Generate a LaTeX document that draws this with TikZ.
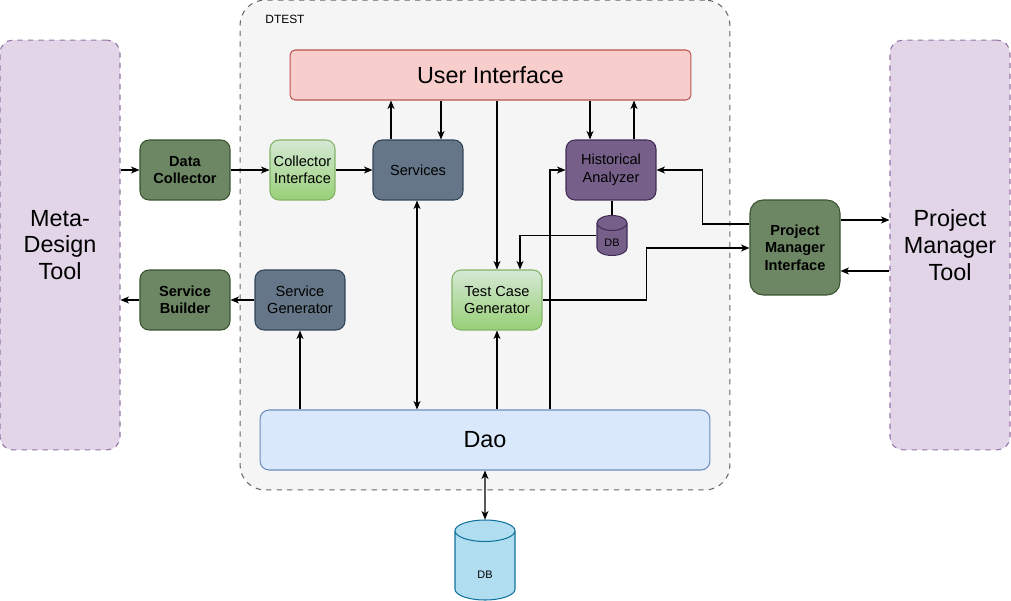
\documentclass[tikz,border=0pt]{standalone}
\usepackage{fontspec}
\setmainfont{Liberation Sans}
\usetikzlibrary{shapes.geometric,arrows.meta}
\definecolor{toolfill}{HTML}{E1D5E7}
\definecolor{toolline}{HTML}{9673A6}
\definecolor{boxfill}{HTML}{F5F5F5}
\definecolor{boxline}{HTML}{666666}
\definecolor{uifill}{HTML}{F8CECC}
\definecolor{uiline}{HTML}{B85450}
\definecolor{dgfill}{HTML}{6D8764}
\definecolor{dgline}{HTML}{3A5431}
\definecolor{lgtop}{HTML}{D5E8D4}
\definecolor{lgbot}{HTML}{97D077}
\definecolor{lgline}{HTML}{82B366}
\definecolor{slfill}{HTML}{647687}
\definecolor{slline}{HTML}{314354}
\definecolor{pufill}{HTML}{76608A}
\definecolor{puline}{HTML}{432D57}
\definecolor{daofill}{HTML}{DAE8FC}
\definecolor{daoline}{HTML}{6C8EBF}
\definecolor{dbfill}{HTML}{B1DDF0}
\definecolor{dbline}{HTML}{10739E}
\begin{document}
\begin{tikzpicture}[x=0.02cm,y=-0.02cm,line width=0.6pt,>={Stealth[length=0.17cm,width=0.14cm,inset=0.05cm]},
    big font/.style={font=\fontsize{13.3}{15.3}\selectfont},
    box font/.style={font=\fontsize{8.3}{10}\selectfont},
    tool node/.style={draw=toolline,fill=toolfill,dashed,rounded corners=0.26cm,minimum width=2.4cm,minimum height=8.2cm,align=center,big font},
    main node/.style={rounded corners=0.18cm,minimum width=1.8cm,minimum height=1.2cm,align=center,inner sep=1pt,box font},
    dark node/.style={main node,draw=dgline,fill=dgfill,font=\fontsize{8.3}{10}\selectfont\bfseries},
    green node/.style={main node,draw=lgline,top color=lgtop,bottom color=lgbot},
    slate node/.style={main node,draw=slline,fill=slfill},
    purple node/.style={main node,draw=puline,fill=pufill},
    db node/.style={cylinder,shape border rotate=90,aspect=0.8,anchor=shape center,draw=#1line,fill=#1fill,font=\fontsize{6.2}{7.5}\selectfont}]
    \useasboundingbox (0,0) rectangle (1011,601);

    % container
    \node[draw=boxline,fill=boxfill,dashed,rounded corners=0.5cm,minimum width=9.8cm,minimum height=9.8cm] at (485,245) (dtest) {};
    \node[anchor=west,font=\fontsize{6.8}{8}\selectfont] at (259,19) (dtestlabel) {DTEST};

    % outside tools
    \node[tool node] at (60,245) (meta) {Meta-\\Design\\Tool};
    \node[tool node] at (950,245) (pmt) {Project\\Manager\\Tool};

    \node[draw=uiline,fill=uifill,rounded corners=0.1cm,minimum width=8.02cm,minimum height=1cm,big font] at (490.5,75) (ui) {User Interface};
    \node[draw=daoline,fill=daofill,rounded corners=0.18cm,minimum width=9cm,minimum height=1.2cm,big font] at (485,440) (dao) {Dao};

    \node[dark node] at (185,170) (dc) {Data\\Collector};
    \node[green node,minimum width=1.3cm] at (302.5,170) (ci) {Collector\\Interface};
    \node[slate node] at (418,170) (svc) {Services};
    \node[purple node] at (611,170) (ha) {Historical\\Analyzer};
    \node[db node=pu,minimum width=0.6cm,minimum height=0.8cm,inner sep=1pt,text height=0.22cm] at (612,235.5) (hadb) {DB};
    \node[dark node,rounded corners=0.26cm,minimum height=1.9cm] at (795,247.5) (pmi) {Project\\Manager\\Interface};
    \node[dark node] at (185,300) (sb) {Service\\Builder};
    \node[slate node] at (300,300) (sg) {Service\\Generator};
    \node[green node] at (497,300) (tcg) {Test Case\\Generator};
    \node[db node=db,minimum width=1.2cm,minimum height=1.6cm,text height=0.38cm] at (485,560) (db) {DB};

    \path[->] (meta.east |- dc) edge (dc);
    \path[->] (dc) edge (ci);
    \path[->] (ci) edge (svc);
    \path[->] (svc.north -| 391,0) edge (ui.south -| 391,0);
    \path[->] (ui.south -| 441,0) edge (svc.north -| 441,0);
    \path[->] (ui.south -| tcg.north) edge (tcg.north);
    \path[->] (ui.south -| 590,0) edge (ha.north -| 590,0);
    \path[->] (ha.north -| 634,0) edge (ui.south -| 634,0);
    \draw (ha.south -| hadb.north) -- (hadb.north);
    \draw[->] (hadb.west |- hadb.shape center) -| (tcg.north -| 520,0);
    \draw[->] (pmi.west |- 0,224) -- ++(-47,0) |- (ha.east);
    \draw[->] (tcg.east) -- ++(104,0) |- (pmi.west |- 0,248);
    \path[->] (pmi.east |- 0,220) edge (pmt.west |- 0,220);
    \path[->] (pmt.west |- 0,271) edge (pmi.east |- 0,271);
    \path[->] (sg) edge (sb);
    \path[->] (sb) edge (meta.east |- sb);

    \path[->]
        (dao.north -| sg) edge (sg)
        (dao.north -| tcg) edge (tcg)
        ;
    \path[<->] (svc.south -| 417,0) edge (dao.north -| 417,0);
    \draw[->] (dao.north -| 550,0) |- (ha.west);
    \path[<->] (dao) edge (db);
\end{tikzpicture}
\end{document}
